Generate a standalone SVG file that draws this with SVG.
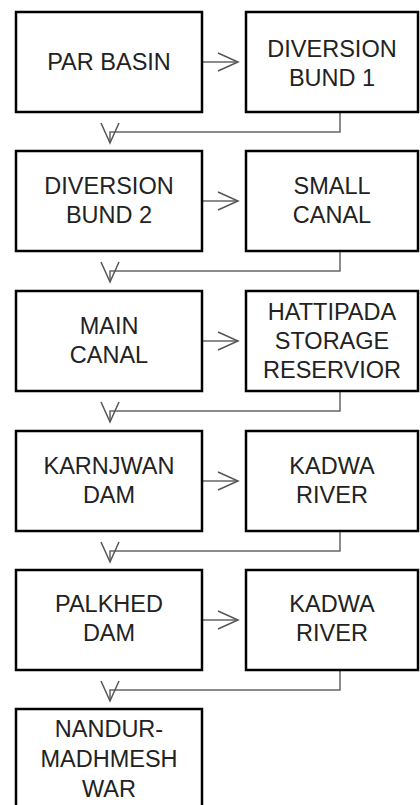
<svg xmlns="http://www.w3.org/2000/svg" width="420" height="805" viewBox="0 0 420 805">
<style>
.box{fill:#fff;stroke:#000;stroke-width:2.5}
.t{font-family:"Liberation Sans",Arial,sans-serif;font-size:23.5px;fill:#222;text-anchor:middle}
.c{fill:none;stroke:#666;stroke-width:1.5}
</style>
<defs>
<marker id="ah" markerUnits="userSpaceOnUse" markerWidth="24" markerHeight="24" viewBox="-22 -12 24 24" refX="0" refY="0" orient="auto">
<path d="M-20,-9 L0,0 L-20,9" fill="none" stroke="#555" stroke-width="1.5"/>
</marker>
</defs>
<rect width="420" height="805" fill="#fff"/>
<g id="connectors">
<line class="c" x1="203" y1="62" x2="238" y2="62" marker-end="url(#ah)"/>
<line class="c" x1="203" y1="201" x2="238" y2="201" marker-end="url(#ah)"/>
<line class="c" x1="203" y1="341" x2="238" y2="341" marker-end="url(#ah)"/>
<line class="c" x1="203" y1="481" x2="238" y2="481" marker-end="url(#ah)"/>
<line class="c" x1="203" y1="620" x2="238" y2="620" marker-end="url(#ah)"/>
<path class="c" d="M340,112 V132 H110 V143" marker-end="url(#ah)"/>
<path class="c" d="M340,251 V271 H110 V282" marker-end="url(#ah)"/>
<path class="c" d="M340,391 V411 H110 V422" marker-end="url(#ah)"/>
<path class="c" d="M340,531 V551 H110 V562" marker-end="url(#ah)"/>
<path class="c" d="M340,670 V690 H110 V701" marker-end="url(#ah)"/>
</g>
<g id="n1"><rect class="box" x="16" y="12" width="186" height="100"/><text class="t" x="109" y="70">PAR BASIN</text></g>
<g id="n2"><rect class="box" x="246" y="12" width="172" height="100"/><text class="t" x="332" y="57">DIVERSION</text><text class="t" x="332" y="86">BUND 1</text></g>
<g id="n3"><rect class="box" x="16" y="151" width="186" height="100"/><text class="t" x="109" y="194">DIVERSION</text><text class="t" x="109" y="223">BUND 2</text></g>
<g id="n4"><rect class="box" x="246" y="151" width="172" height="100"/><text class="t" x="332" y="194">SMALL</text><text class="t" x="332" y="223">CANAL</text></g>
<g id="n5"><rect class="box" x="16" y="291" width="186" height="100"/><text class="t" x="109" y="334">MAIN</text><text class="t" x="109" y="363">CANAL</text></g>
<g id="n6"><rect class="box" x="246" y="291" width="172" height="100"/><text class="t" x="332" y="320">HATTIPADA</text><text class="t" x="332" y="349">STORAGE</text><text class="t" x="332" y="378">RESERVIOR</text></g>
<g id="n7"><rect class="box" x="16" y="431" width="186" height="100"/><text class="t" x="109" y="474">KARNJWAN</text><text class="t" x="109" y="503">DAM</text></g>
<g id="n8"><rect class="box" x="246" y="431" width="172" height="100"/><text class="t" x="332" y="474">KADWA</text><text class="t" x="332" y="503">RIVER</text></g>
<g id="n9"><rect class="box" x="16" y="570" width="186" height="100"/><text class="t" x="109" y="612">PALKHED</text><text class="t" x="109" y="641">DAM</text></g>
<g id="n10"><rect class="box" x="246" y="570" width="172" height="100"/><text class="t" x="332" y="612">KADWA</text><text class="t" x="332" y="641">RIVER</text></g>
<g id="n11"><rect class="box" x="16" y="709" width="186" height="110"/><text class="t" x="109" y="737">NANDUR-</text><text class="t" x="109" y="767">MADHMESH</text><text class="t" x="109" y="797">WAR</text></g>
</svg>
